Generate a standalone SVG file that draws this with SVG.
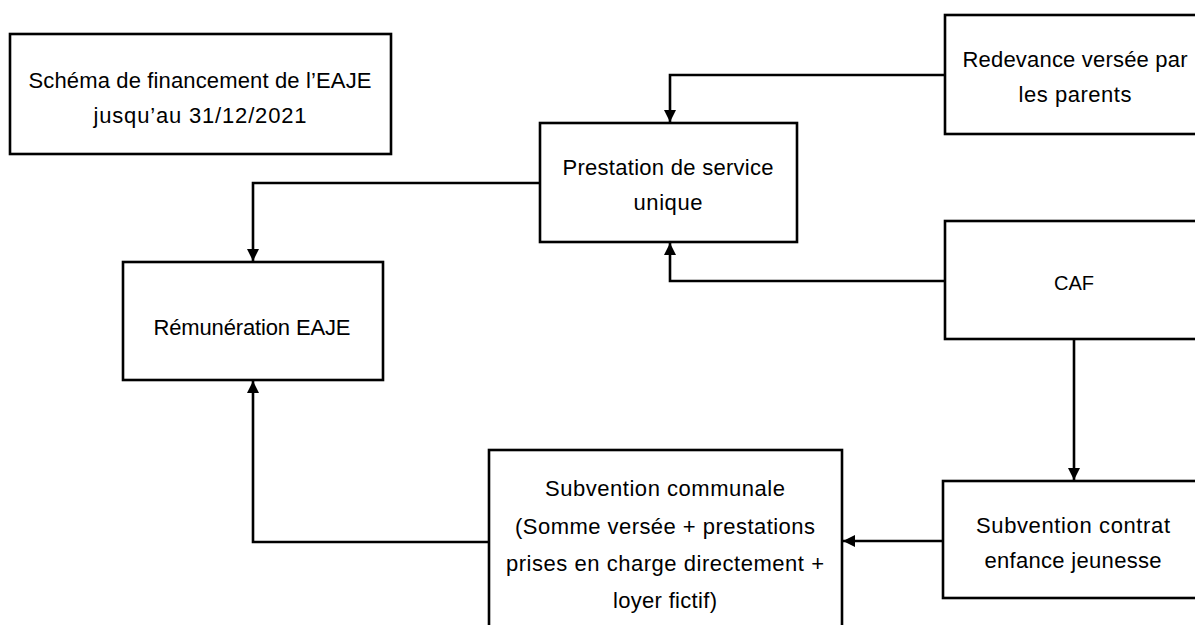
<svg xmlns="http://www.w3.org/2000/svg" width="1195" height="625" viewBox="0 0 1195 625">
<style>
.box{fill:#fff;stroke:#000;stroke-width:2.6}
.t{font-family:"Liberation Sans",Arial,sans-serif;font-size:22px;fill:#000;text-anchor:middle}
.c{fill:none;stroke:#000;stroke-width:2.6;marker-end:url(#ah)}
</style>
<defs>
<marker id="ah" markerUnits="userSpaceOnUse" markerWidth="12" markerHeight="14" viewBox="0 0 12 14" refX="12" refY="7" orient="auto">
<path d="M0,1 L12,7 L0,13 Z" fill="#000"/>
</marker>
</defs>
<rect width="1195" height="625" fill="#fff"/>
<g id="connectors">
<path class="c" d="M945,75 H670 V122"/>
<path class="c" d="M540,183 H253 V261"/>
<path class="c" d="M945,281 H670 V243"/>
<path class="c" d="M1074,339 V480"/>
<path class="c" d="M943,541 H843"/>
<path class="c" d="M489,542 H253 V381"/>
</g>
<g id="title">
<rect class="box" x="10" y="34" width="381" height="120"/>
<text class="t" x="200" y="88" textLength="343" lengthAdjust="spacing">Schéma de financement de l’EAJE</text>
<text class="t" x="200" y="123" textLength="213" lengthAdjust="spacing">jusqu’au 31/12/2021</text>
</g>
<g id="redevance">
<rect class="box" x="945" y="15" width="262" height="119"/>
<text class="t" x="1075" y="67" textLength="225" lengthAdjust="spacing">Redevance versée par</text>
<text class="t" x="1075" y="102" textLength="113" lengthAdjust="spacing">les parents</text>
</g>
<g id="prestation">
<rect class="box" x="540" y="123" width="257" height="119"/>
<text class="t" x="668" y="175" textLength="211" lengthAdjust="spacing">Prestation de service</text>
<text class="t" x="668" y="210" textLength="69" lengthAdjust="spacing">unique</text>
</g>
<g id="caf">
<rect class="box" x="945" y="221" width="262" height="118"/>
<text class="t" x="1074" y="290" style="font-size:20px">CAF</text>
</g>
<g id="remuneration">
<rect class="box" x="123" y="262" width="260" height="118"/>
<text class="t" x="252" y="335" textLength="197" lengthAdjust="spacing">Rémunération EAJE</text>
</g>
<g id="subvention-communale">
<rect class="box" x="489" y="450" width="353" height="190"/>
<text class="t" x="665" y="496" textLength="240" lengthAdjust="spacing">Subvention communale</text>
<text class="t" x="665" y="534" textLength="300" lengthAdjust="spacing">(Somme versée + prestations</text>
<text class="t" x="665" y="571" textLength="318" lengthAdjust="spacing">prises en charge directement +</text>
<text class="t" x="665" y="608" textLength="104" lengthAdjust="spacing">loyer fictif)</text>
</g>
<g id="subvention-cej">
<rect class="box" x="943" y="481" width="264" height="117"/>
<text class="t" x="1073" y="533" textLength="194" lengthAdjust="spacing">Subvention contrat</text>
<text class="t" x="1073" y="568" textLength="177" lengthAdjust="spacing">enfance jeunesse</text>
</g>
</svg>
